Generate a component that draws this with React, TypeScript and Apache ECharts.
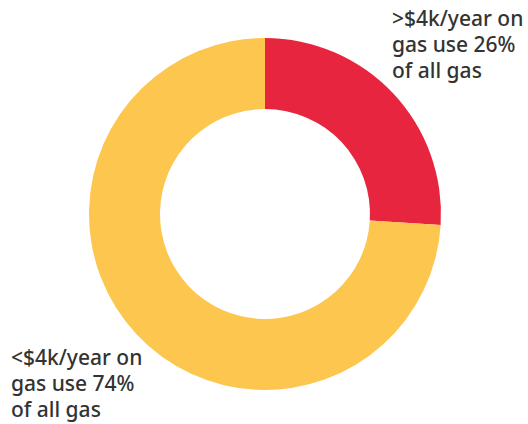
import React, { useEffect, useRef } from "react";
import * as echarts from "echarts";

const categories = [">$4k/year on gas", "<$4k/year on gas"];
const values = [26, 74];
const colors = ["#E8253F", "#FCC64F"];
const labelLines = [
  [">$4k/year on", "gas use 26%", "of all gas"],
  ["<$4k/year on", "gas use 74%", "of all gas"],
];

export default function App() {
  const ref = useRef<HTMLDivElement>(null);
  useEffect(() => {
    document.body.style.margin = "0";
    const chart = echarts.init(ref.current!, null, { renderer: "svg" });
    chart.setOption({
      animation: false,
      backgroundColor: "#ffffff",
      series: [
        {
          type: "pie",
          center: [265, 214],
          radius: [105, 176],
          startAngle: 90,
          clockwise: true,
          label: { show: false },
          labelLine: { show: false },
          emphasis: { disabled: true },
          data: categories.map((c, i) => ({
            name: c,
            value: values[i],
            itemStyle: { color: colors[i] },
          })),
        },
      ],
      graphic: [
        {
          type: "text",
          left: 392,
          top: 5,
          style: {
            text: labelLines[0].join("\n"),
            fill: "#333333",
            font: "500 21px 'Noto Sans', sans-serif",
            lineHeight: 26,
          },
        },
        {
          type: "text",
          left: 11,
          top: 344,
          style: {
            text: labelLines[1].join("\n"),
            fill: "#333333",
            font: "500 21px 'Noto Sans', sans-serif",
            lineHeight: 26,
          },
        },
      ],
    });
    return () => chart.dispose();
  }, []);
  return <div ref={ref} style={{ width: 528, height: 424 }} />;
}
